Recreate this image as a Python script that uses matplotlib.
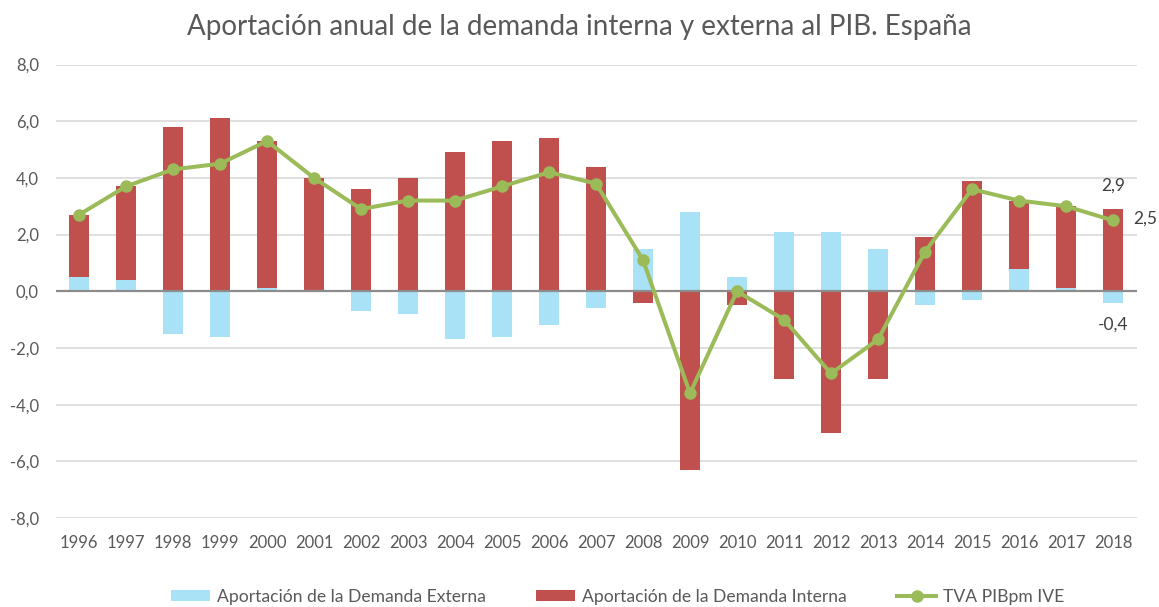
import numpy as np
import matplotlib.pyplot as plt

plt.rcParams['font.family'] = ['Lato', 'DejaVu Sans']

years = [str(y) for y in range(1996, 2019)]
externa = [0.5, 0.4, -1.5, -1.6, 0.1, 0.0, -0.7, -0.8, -1.7, -1.6, -1.2, -0.6,
           1.5, 2.8, 0.5, 2.1, 2.1, 1.5, -0.5, -0.3, 0.8, 0.1, -0.4]
interna = [2.2, 3.3, 5.8, 6.1, 5.2, 4.0, 3.6, 4.0, 4.9, 5.3, 5.4, 4.4,
           -0.4, -6.3, -0.5, -3.1, -5.0, -3.1, 1.9, 3.9, 2.4, 2.9, 2.9]
pib = [2.7, 3.7, 4.3, 4.5, 5.3, 4.0, 2.9, 3.2, 3.2, 3.7, 4.2, 3.8,
       1.1, -3.6, 0.0, -1.0, -2.9, -1.7, 1.4, 3.6, 3.2, 3.0, 2.5]

c_ext = '#a9e2f7'
c_int = '#c0504d'
c_pib = '#9bbb59'
c_txt = '#595959'

ext = np.array(externa)
inn = np.array(interna)
# stacked the Excel way: positives pile up above zero, negatives below
base = np.where(np.sign(ext) == np.sign(inn), ext, 0.0)
x = np.arange(len(years))

fig = plt.figure(figsize=(11.59, 6.07), dpi=100)
ax = fig.add_axes([0.0479, 0.1466, 0.9327, 0.7471])

for v in [-8, -6, -4, -2, 2, 4, 6, 8]:
    ax.axhline(v, color='#d9d9d9', lw=1.2, zorder=0)

w = 0.41
b1 = ax.bar(x, ext, width=w, color=c_ext, zorder=2)
b2 = ax.bar(x, inn, width=w, bottom=base, color=c_int, zorder=2)
ax.axhline(0, color='#8c8c8c', lw=1.6, zorder=3)
l1, = ax.plot(x, pib, color=c_pib, lw=2.9, marker='o', ms=8, zorder=4)

last = len(years) - 1
ax.annotate('2,9', (x[last], base[last] + inn[last]), xytext=(0, 17),
            textcoords='offset points', ha='center', va='center', fontsize=12.5, color='#404040')
ax.annotate('2,5', (x[last], pib[last]), xytext=(23, 1),
            textcoords='offset points', ha='center', va='center', fontsize=12.5, color='#404040')
ax.annotate('-0,4', (x[last], ext[last]), xytext=(0, -16),
            textcoords='offset points', ha='center', va='center', fontsize=12.5, color='#404040')

ax.set_xlim(-0.5, len(years) - 0.5)
ax.set_ylim(-8, 8)
ax.set_xticks(x)
ax.set_xticklabels(years)
ax.set_yticks(range(-8, 9, 2))
ax.set_yticklabels([('%.1f' % v).replace('.', ',') for v in range(-8, 9, 2)])
ax.tick_params(length=0, labelsize=12, colors=c_txt)
ax.tick_params(axis='x', pad=12)
ax.tick_params(axis='y', pad=12)
for s in ax.spines.values():
    s.set_visible(False)

fig.text(0.5, 0.955, 'Aportación anual de la demanda interna y externa al PIB. España',
         ha='center', va='center', fontsize=20, color=c_txt)

fig.legend([b1, b2, l1],
           ['Aportación de la Demanda Externa', 'Aportación de la Demanda Interna', 'TVA PIBpm IVE'],
           loc='center', bbox_to_anchor=(0.533, 0.0165), ncol=3, frameon=False,
           fontsize=12.6, labelcolor=c_txt, columnspacing=2.9, handlelength=2.2,
           handletextpad=0.4, handleheight=0.6)

fig.savefig('out.png', dpi=100)
